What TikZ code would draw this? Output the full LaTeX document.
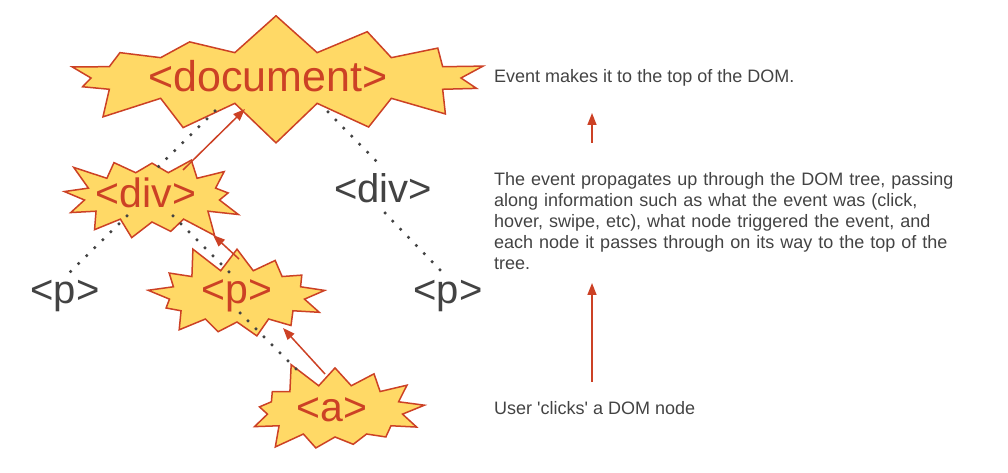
\documentclass[tikz,border=0pt]{standalone}
\usepackage{fontspec}
\setmainfont{Liberation Sans}
\usetikzlibrary{shapes.symbols,arrows.meta}
\definecolor{berry}{HTML}{CC4125}
\definecolor{burstfill}{HTML}{FFD966}
\definecolor{ink}{HTML}{434343}
\begin{document}
\begin{tikzpicture}[x=1pt,y=1pt,
		burst/.style={starburst,draw=berry,fill=burstfill,line width=1.5pt,inner sep=0pt,starburst points=13,starburst point height=28pt},
		hot/.style={text=berry,font=\fontsize{41}{41}\selectfont,inner sep=0pt,anchor=base},
		cold/.style={text=ink,font=\fontsize{40}{40}\selectfont,inner sep=0pt,anchor=base},
		note/.style={text=ink,font=\fontsize{18}{21}\selectfont,inner sep=0pt,align=left},
		treeline/.style={ink,line width=3.5pt,line cap=round,dash pattern=on 0pt off 11.3pt},
		bubble/.style={berry,line width=1.5pt,-{Triangle[length=12pt,width=9pt]}}]
	\useasboundingbox (0,0) rectangle (1008,473);
	% the bursts
	\node[burst,minimum width=450pt,minimum height=132pt,starburst points=14,starburst point height=40pt,random starburst=7] (docburst) at (276,395) {};
	\node[burst,minimum width=192pt,minimum height=106pt,random starburst=3] (divburst) at (152,276) {};
	\node[burst,minimum width=192pt,minimum height=108pt,random starburst=11] (pburst) at (237,177) {};
	\node[burst,minimum width=192pt,minimum height=108pt,random starburst=5] (aburst) at (335,62) {};
	% the tags
	\node[hot,font=\fontsize{43}{43}\selectfont] (doc) at (268,381) {<document>};
	\node[hot] (divL) at (146,265) {<div>};
	\node[cold] (divR) at (383,270) {<div>};
	\node[cold] (pL) at (65,169) {<p>};
	\node[hot] (pM) at (237,169) {<p>};
	\node[cold] (pR) at (448,169) {<p>};
	\node[hot] (a) at (332,51) {<a>};
	% the notes
	\node[note,anchor=base west] (topnote) at (494,390) {Event makes it to the top of the DOM.};
	\node[note,anchor=north west,text width=480pt] (midnote) at (494,301) {The event propagates up through the DOM tree, passing\\along information such as what the event was (click,\\hover, swipe, etc), what node triggered the event, and\\each node it passes through on its way to the top of the\\tree.};
	\node[note,anchor=base west] (clicknote) at (494,58) {User \textquotesingle clicks\textquotesingle{} a DOM node};
	% tree
	\draw[treeline] ([xshift=-53pt,yshift=-19pt]doc.base) -- ([xshift=12pt,yshift=41pt]divL.base);
	\draw[treeline] ([xshift=60pt,yshift=-20pt]doc.base) -- ([yshift=35pt]divR.base);
	\draw[treeline] ([xshift=-19pt,yshift=-8pt]divL.base) -- ([xshift=5pt,yshift=32pt]pL.base);
	\draw[treeline] ([xshift=27pt,yshift=-8pt]divL.base) -- ([xshift=-8pt,yshift=32pt]pM.base);
	\draw[treeline] ([xshift=2pt,yshift=-10pt]divR.base) -- ([xshift=-7pt,yshift=33pt]pR.base);
	\draw[treeline] ([xshift=3pt,yshift=-9pt]pM.base) -- ([xshift=-36pt,yshift=53pt]a.base);
	% bubbling up
	\draw[bubble] ([xshift=37pt,yshift=38pt]divL.base) -- ([xshift=-23pt,yshift=-17pt]doc.base);
	\draw[bubble] ([xshift=2pt,yshift=45pt]pM.base) -- ([xshift=67pt,yshift=-27pt]divL.base);
	\draw[bubble] ([xshift=-7pt,yshift=48pt]a.base) -- ([xshift=46pt,yshift=-24pt]pM.base);
	\draw[bubble] ([xshift=98pt,yshift=29pt]midnote.north west) -- ([xshift=98pt,yshift=-30pt]topnote.base west);
	\draw[bubble] ([xshift=98pt,yshift=33pt]clicknote.base west) -- ([xshift=98pt,yshift=-111pt]midnote.north west);
\end{tikzpicture}
\end{document}
